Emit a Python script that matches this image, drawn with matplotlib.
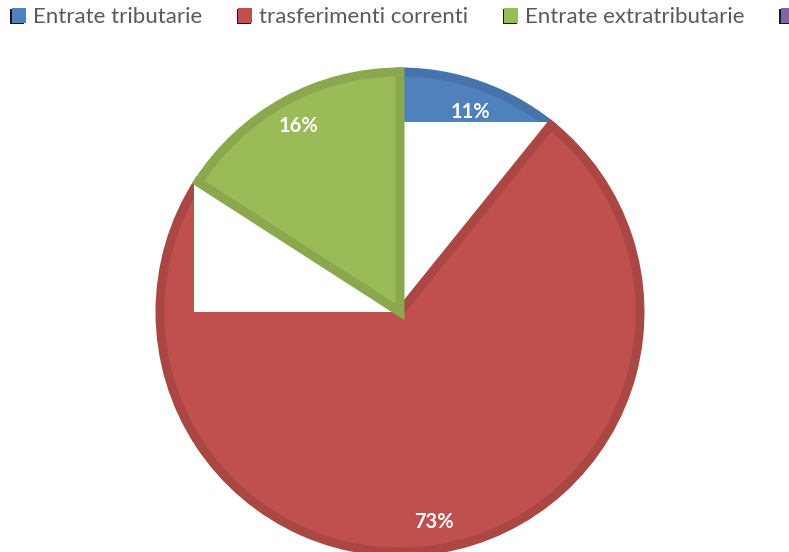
import matplotlib
matplotlib.use('Agg')
import matplotlib.pyplot as plt
import matplotlib.patheffects as pe
import numpy as np
from matplotlib.patches import Rectangle, Patch

# fourth category's name is cut off in the original (only its purple key is visible)
categories = ['Entrate tributarie', 'trasferimenti correnti', 'Entrate extratributarie', '']
values = [10.8, 73.3, 15.9, 0.0]
colors = ['#4F81BD', '#C0504D', '#9BBB59', '#8064A2']
edge_colors = ['#4673AB', '#AA4744', '#8BA84F', '#71598F']

W, H = 789, 552
fig = plt.figure(figsize=(W / 100, H / 100), dpi=100)
ax = fig.add_axes([0, 0, 1, 1])

cx, cy, R = 400, 240, 240
lw_px = 9
wedges, texts, autotexts = ax.pie(
    values, colors=colors, startangle=90, counterclock=False,
    center=(cx, cy), radius=R, frame=True,
    autopct=lambda p: f'{p:.0f}%' if p > 0 else '',
    pctdistance=0.885,
    wedgeprops=dict(linewidth=lw_px * 0.72, joinstyle='miter'),
    textprops=dict(color='white', fontsize=14.5, fontweight='bold', family='Lato'))

for w, ec, v in zip(wedges, edge_colors, values):
    w.set_edgecolor(ec)
    if v == 0:
        w.set_visible(False)

# rendering artefact of the original: white boxes between centre and slice boundaries
Ro = R + lw_px / 2
def boundary_point(theta):
    t = np.deg2rad(theta)
    return cx + Ro * np.cos(t), cy + Ro * np.sin(t)

pa = boundary_point(wedges[0].theta1)   # blue/red boundary
rectA = Rectangle((cx, cy), pa[0] - cx, pa[1] - cy, facecolor='white', edgecolor='none')
pb = boundary_point(wedges[1].theta1)   # red/green boundary
rectB = Rectangle((pb[0], cy), cx - pb[0], pb[1] - cy, facecolor='white', edgecolor='none')

wedges[0].set_zorder(1)
ax.add_patch(rectA); rectA.set_zorder(2)
wedges[1].set_zorder(3)
ax.add_patch(rectB); rectB.set_zorder(4)
wedges[2].set_zorder(5)
for t in autotexts:
    t.set_zorder(10)

ax.set_xlim(0, W)
ax.set_ylim(0, H)
ax.set_aspect('equal')
ax.axis('off')

fs = 16
fs_px = fs * 100 / 72
handles = [Patch(facecolor=c, edgecolor='none',
                 path_effects=[pe.SimplePatchShadow(offset=(-1.2, -1.2), shadow_rgbFace='black', alpha=0.9),
                               pe.Normal()])
           for c in colors]
fig.legend(handles, categories, ncol=4, loc='upper left',
           bbox_to_anchor=(12 / W, 1 - 7 / H),
           frameon=False, handlelength=14 / fs_px, handleheight=15 / fs_px,
           handletextpad=7 / fs_px, columnspacing=36 / fs_px,
           borderaxespad=0, borderpad=0,
           labelcolor='#595959', prop=dict(family='Lato', size=fs))

fig.savefig('out.png', dpi=100)
